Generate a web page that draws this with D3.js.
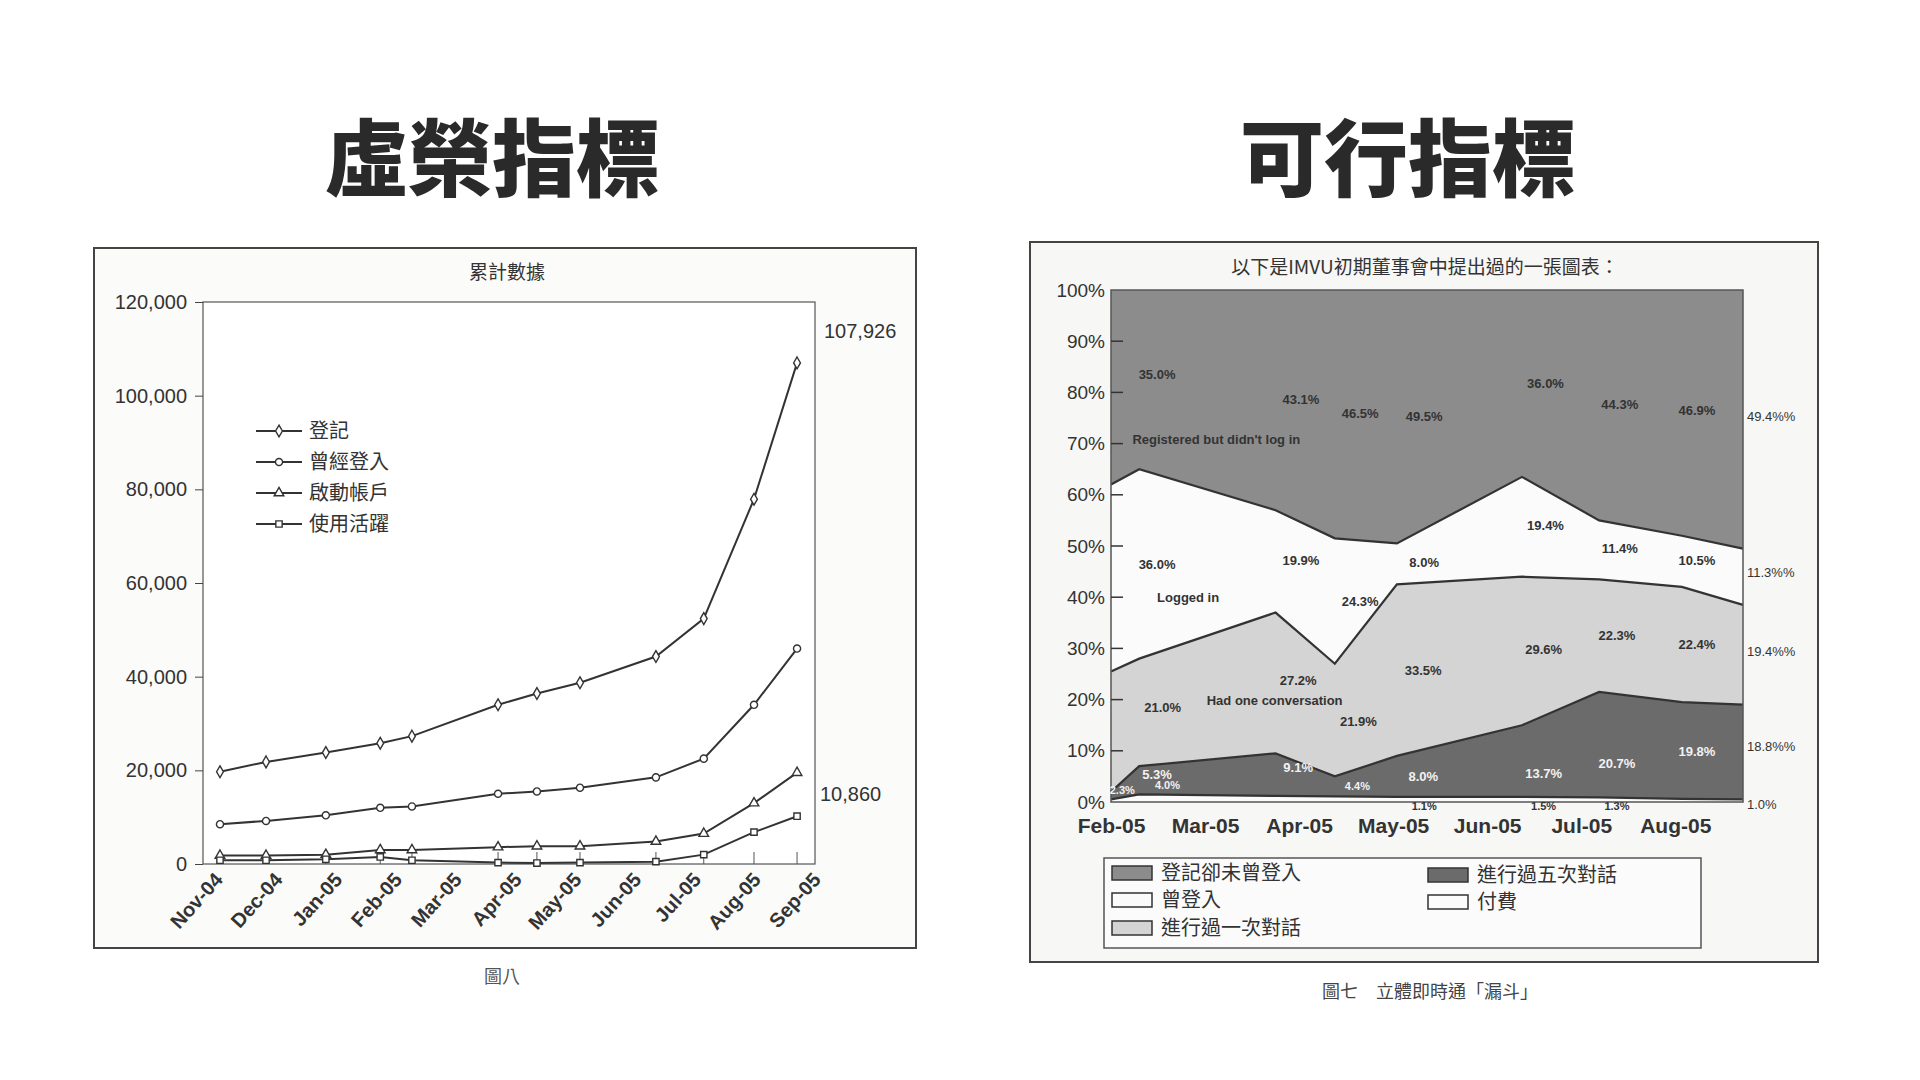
<!DOCTYPE html>
<meta charset="utf-8">
<title>虛榮指標 / 可行指標</title>
<script src="https://d3js.org/d3.v7.min.js"></script>
<body style="margin:0;background:#fff;">
<svg id="c" width="1920" height="1080"></svg>
</body>
<script>
// left chart: cumulative counts (x in month units, Nov-04 = 0)
const monthsL = ["Nov-04","Dec-04","Jan-05","Feb-05","Mar-05","Apr-05","May-05","Jun-05","Jul-05","Aug-05","Sep-05"]
const xs = [0.10, 0.87, 1.87, 2.78, 3.31, 4.75, 5.40, 6.12, 7.39, 8.19, 9.03, 9.75]
const registered = [19700, 21800, 23800, 25800, 27300, 34000, 36400, 38700, 44300, 52400, 77900, 107000]
const loggedIn = [8500, 9200, 10400, 12000, 12300, 15000, 15500, 16300, 18500, 22500, 34000, 46000]
const activated = [1800, 1800, 2000, 3000, 3000, 3600, 3800, 3800, 4800, 6500, 13000, 19500]
const active = [800, 800, 1000, 1500, 800, 300, 200, 300, 500, 2000, 6800, 10200]
const seriesNames = ["登記", "曾經登入", "啟動帳戶", "使用活躍"]

// right chart: stacked boundaries (x in month units, Feb-05 = 0)
const monthsR = ["Feb-05","Mar-05","Apr-05","May-05","Jun-05","Jul-05","Aug-05"]
const bx = [0, 0.3, 1.75, 2.38, 3.04, 4.37, 5.19, 6.07, 6.72]
const paidTop = [0.5, 1.5, 1.2, 1.1, 1.0, 1.0, 0.9, 0.6, 0.5]
const fiveTop = [2, 7, 9.5, 5, 9, 15, 21.5, 19.5, 19]
const oneTop = [25.5, 28, 37, 27, 42.5, 44, 43.5, 42, 38.5]
const loggedTop = [62, 65, 57, 51.5, 50.5, 63.5, 55, 52, 49.5]
const legendR = ["登記卻未曾登入", "曾登入", "進行過一次對話", "進行過五次對話", "付費"]
const inLabels = [
  ["35.0%",0.49,83.6,0],["43.1%",2.02,78.7,0],["46.5%",2.65,75.9,0],["49.5%",3.33,75.4,0],
  ["36.0%",4.62,81.8,0],["44.3%",5.41,77.6,0],["46.9%",6.23,76.5,0],
  ["Registered but didn't log in",1.12,70.8,0],
  ["36.0%",0.49,46.3,0],["19.9%",2.02,47.2,0],["8.0%",3.33,46.7,0],["19.4%",4.62,54,0],
  ["11.4%",5.41,49.5,0],["10.5%",6.23,47.2,0],["Logged in",0.82,40,0],["24.3%",2.65,39.2,0],
  ["29.6%",4.6,29.8,0],["22.3%",5.38,32.6,0],["22.4%",6.23,30.7,0],["27.2%",1.99,23.7,0],
  ["33.5%",3.32,25.6,0],["21.0%",0.55,18.5,0],["Had one conversation",1.74,19.8,0],["21.9%",2.63,15.8,0],
  ["5.3%",0.49,5.3,1],["2.3%",0.12,2.4,1],["4.0%",0.6,3.2,1],["9.1%",1.99,6.8,1],["4.4%",2.62,3,1],
  ["8.0%",3.32,4.9,1],["13.7%",4.6,5.5,1],["20.7%",5.38,7.5,1],["19.8%",6.23,9.8,1],
  ["1.1%",3.33,-0.9,0],["1.5%",4.6,-0.9,0],["1.3%",5.38,-0.9,0]]
const sideLabels = [["49.4%%",75.4],["11.3%%",44.8],["19.4%%",29.4],["18.8%%",10.8],["1.0%",-0.4]]

const svg = d3.select("#c")
const NF = "'Liberation Sans Narrow', 'Liberation Sans', sans-serif"
const CJK = "'Noto Sans CJK TC', sans-serif"

// big titles
svg.append("text").attr("x", 492).attr("y", 190).attr("text-anchor", "middle")
  .attr("font-family", CJK).attr("font-weight", 900).attr("font-size", 84).attr("fill", "#2a2a2a").text("虛榮指標")
svg.append("text").attr("x", 1408).attr("y", 190).attr("text-anchor", "middle")
  .attr("font-family", CJK).attr("font-weight", 900).attr("font-size", 84).attr("fill", "#2a2a2a").text("可行指標")

// ---------- left chart ----------
const L = svg.append("g")
L.append("rect").attr("x", 94).attr("y", 248).attr("width", 822).attr("height", 700)
  .attr("fill", "#fbfbfa").attr("stroke", "#444").attr("stroke-width", 2)
L.append("text").attr("x", 507).attr("y", 279).attr("text-anchor", "middle")
  .attr("font-family", CJK).attr("font-size", 19).attr("fill", "#333").text("累計數據")
L.append("text").attr("x", 502).attr("y", 983).attr("text-anchor", "middle")
  .attr("font-family", CJK).attr("font-size", 18).attr("fill", "#555").text("圖八")

const xL = d3.scaleLinear().domain([0, 10]).range([214, 812])
const yL = d3.scaleLinear().domain([0, 120000]).range([864, 302])
L.append("rect").attr("x", 203).attr("y", 302).attr("width", 612).attr("height", 562)
  .attr("fill", "#fff").attr("stroke", "#555").attr("stroke-width", 1.2)
L.append("g").attr("transform", "translate(203,0)")
  .call(d3.axisLeft(yL).tickValues(d3.range(0, 120001, 20000)).tickFormat(d3.format(",")).tickSize(8).tickPadding(8))
  .call(g => g.select(".domain").remove())
  .call(g => g.selectAll("text").attr("font-family", NF).attr("font-size", 20).attr("fill", "#333"))
  .call(g => g.selectAll("line").attr("stroke", "#444"))
const xa = L.append("g").attr("transform", "translate(0,864)")
  .call(d3.axisBottom(xL).tickValues(d3.range(0, 11)).tickFormat(i => monthsL[i]).tickSize(0))
xa.select(".domain").remove()
xa.selectAll("text").attr("font-family", NF).attr("font-weight", "bold").attr("font-size", 20).attr("fill", "#333")
  .attr("text-anchor", "end").attr("dx", "-2").attr("dy", "14").attr("transform", "rotate(-48)")
    .attr("x", -4).attr("y", 4)
L.append("g").selectAll("line").data(xs).join("line")
  .attr("x1", d => xL(d)).attr("x2", d => xL(d)).attr("y1", 864).attr("y2", 852).attr("stroke", "#555")

const lineL = d3.line().x((d, i) => xL(xs[i])).y(d => yL(d))
const allSeries = [registered, loggedIn, activated, active]
const symbols = [d3.symbolDiamond, d3.symbolCircle, d3.symbolTriangle, d3.symbolSquare]
allSeries.forEach((s, k) => {
  L.append("path").attr("d", lineL(s)).attr("fill", "none").attr("stroke", "#333").attr("stroke-width", 2)
  L.append("g").selectAll("path").data(s).join("path")
    .attr("transform", (d, i) => `translate(${xL(xs[i])},${yL(d)})`)
    .attr("d", d3.symbol(symbols[k], 40)).attr("fill", "#fff").attr("stroke", "#333").attr("stroke-width", 1.4)
})
L.append("text").attr("x", 824).attr("y", 338).attr("font-family", NF).attr("font-size", 20).attr("fill", "#333").text("107,926")
L.append("text").attr("x", 820).attr("y", 801).attr("font-family", NF).attr("font-size", 20).attr("fill", "#333").text("10,860")

const lg = L.append("g")
seriesNames.forEach((n, k) => {
  const y = 431 + k * 31
  lg.append("line").attr("x1", 256).attr("x2", 302).attr("y1", y).attr("y2", y).attr("stroke", "#333").attr("stroke-width", 2)
  lg.append("path").attr("transform", `translate(279,${y})`).attr("d", d3.symbol(symbols[k], 40))
    .attr("fill", "#fff").attr("stroke", "#333").attr("stroke-width", 1.4)
  lg.append("text").attr("x", 309).attr("y", y + 7).attr("font-family", CJK).attr("font-size", 20).attr("fill", "#333").text(n)
})

// ---------- right chart ----------
const R = svg.append("g")
R.append("rect").attr("x", 1030).attr("y", 242).attr("width", 788).attr("height", 720)
  .attr("fill", "#f7f7f5").attr("stroke", "#444").attr("stroke-width", 2)
R.append("text").attr("x", 1425).attr("y", 274).attr("text-anchor", "middle")
  .attr("font-family", CJK).attr("font-size", 19).attr("fill", "#333").text("以下是IMVU初期董事會中提出過的一張圖表：")
R.append("text").attr("x", 1430).attr("y", 998).attr("text-anchor", "middle")
  .attr("font-family", CJK).attr("font-size", 18).attr("fill", "#444").text("圖七　立體即時通「漏斗」")

const xR = d3.scaleLinear().domain([0, 6.72]).range([1111, 1743])
const yR = d3.scaleLinear().domain([0, 100]).range([802, 290])
const area = (lo, hi) => d3.area().x((d, i) => xR(bx[i])).y0((d, i) => yR(lo[i])).y1((d, i) => yR(hi[i]))(bx)
const zeros = bx.map(() => 0), hundreds = bx.map(() => 100)
const layers = [
  [loggedTop, hundreds, "#8c8c8c"],
  [oneTop, loggedTop, "#fbfbfb"],
  [fiveTop, oneTop, "#d4d4d4"],
  [paidTop, fiveTop, "#6b6b6b"],
  [zeros, paidTop, "#fbfbfb"]]
layers.forEach(([lo, hi, c]) => R.append("path").attr("d", area(lo, hi)).attr("fill", c))
const lineR = d3.line().x((d, i) => xR(bx[i])).y(d => yR(d))
;[paidTop, fiveTop, oneTop, loggedTop].forEach(s =>
  R.append("path").attr("d", lineR(s)).attr("fill", "none").attr("stroke", "#333").attr("stroke-width", 2.2))
R.append("rect").attr("x", xR(0)).attr("y", yR(100)).attr("width", xR(6.72) - xR(0)).attr("height", yR(0) - yR(100))
  .attr("fill", "none").attr("stroke", "#555").attr("stroke-width", 1.5)

R.append("g").attr("transform", `translate(${xR(0)},0)`)
  .call(d3.axisLeft(yR).tickValues(d3.range(0, 101, 10)).tickFormat(d => d + "%").tickSize(0).tickPadding(6))
  .call(g => g.select(".domain").remove())
  .call(g => g.selectAll("text").attr("font-family", NF).attr("font-size", 19).attr("fill", "#333"))
R.append("g").selectAll("line").data(d3.range(10, 100, 10)).join("line")
  .attr("x1", xR(0)).attr("x2", xR(0) + 12).attr("y1", d => yR(d)).attr("y2", d => yR(d)).attr("stroke", "#333").attr("stroke-width", 1.5)
R.append("g").attr("transform", `translate(0,${yR(0)})`)
  .call(d3.axisBottom(xR).tickValues(d3.range(0, 7)).tickFormat(i => monthsR[i]).tickSize(0).tickPadding(16))
  .call(g => g.select(".domain").remove())
  .call(g => g.selectAll("text").attr("font-family", NF).attr("font-weight", "bold").attr("font-size", 21).attr("fill", "#333"))

R.append("g").selectAll("text").data(inLabels).join("text")
  .attr("x", d => xR(d[1])).attr("y", d => yR(d[2])).attr("text-anchor", "middle").attr("dy", "0.35em")
  .attr("font-family", NF).attr("font-weight", "bold").attr("font-size", d => d[2] < 4 ? 11 : 13)
  .attr("fill", d => d[3] ? "#f2f2f2" : "#333").text(d => d[0])
R.append("g").selectAll("text").data(sideLabels).join("text")
  .attr("x", 1747).attr("y", d => yR(d[1])).attr("dy", "0.35em")
  .attr("font-family", NF).attr("font-size", 13).attr("fill", "#333").text(d => d[0])

// legend
R.append("rect").attr("x", 1104).attr("y", 858).attr("width", 597).attr("height", 90)
  .attr("fill", "#fbfbfb").attr("stroke", "#555").attr("stroke-width", 1.5)
const legPos = [[1112, 873], [1112, 900], [1112, 928], [1428, 875], [1428, 902]]
const legCol = ["#8c8c8c", "#fbfbfb", "#d4d4d4", "#6b6b6b", "#fbfbfb"]
legendR.forEach((n, k) => {
  const [x, y] = legPos[k]
  R.append("rect").attr("x", x).attr("y", y - 7).attr("width", 40).attr("height", 14)
    .attr("fill", legCol[k]).attr("stroke", "#333").attr("stroke-width", 1.5)
  R.append("text").attr("x", x + 49).attr("y", y + 7).attr("font-family", CJK).attr("font-size", 20).attr("fill", "#333").text(n)
})
</script>
